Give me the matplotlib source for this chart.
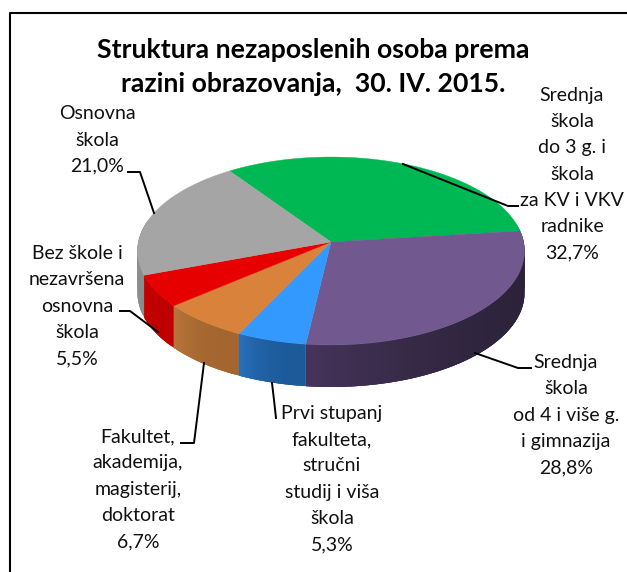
import numpy as np
import matplotlib
matplotlib.use('Agg')
import matplotlib.pyplot as plt
from matplotlib.colors import to_rgb
from matplotlib.patches import Polygon

plt.rcParams['font.family'] = ['Lato', 'DejaVu Sans']

# shares, clockwise starting from the green slice
values = [32.7, 28.8, 5.3, 6.7, 5.5, 21.0]
top_colors = ['#00b853', '#71588f', '#3399ff', '#d9823b', '#e60000', '#a5a5a5']
side_left = ['#00913f', '#46345c', '#2a72c0', '#bb763a', '#cc0000', '#8c8c8c']
side_right = ['#00913f', '#2b2238', '#1c5a9a', '#a3662e', '#bd0000', '#8c8c8c']

labels = [
    'Srednja\nškola\ndo 3 g. i\nškola\nza KV i VKV\nradnike\n32,7%',
    'Srednja\nškola\nod 4 i više g.\ni gimnazija\n28,8%',
    'Prvi stupanj\nfakulteta,\nstručni\nstudij i viša\nškola\n5,3%',
    'Fakultet,\nakademija,\nmagisterij,\ndoktorat\n6,7%',
    'Bez škole i\nnezavršena\nosnovna\nškola\n5,5%',
    'Osnovna\nškola\n21,0%',
]
label_x = [572, 566, 332, 138, 77, 97]
label_y = [174, 415, 479, 489, 306, 140]

leaders = [
    [(403, 164), (508, 206), (518, 206)],
    [(475, 353), (518, 368), (531, 368)],
    [(272, 383), (274, 400), (276, 418)],
    [(204, 363), (194, 443), (181, 443)],
    [(120, 311), (130, 311), (158, 332)],
    [(128, 172), (140, 172), (154, 213)],
]

title = 'Struktura nezaposlenih osoba prema\nrazini obrazovanja,  30. IV. 2015.'

start_angle = -34.6
cx, cy = 331, 242
depth = 42
k, e, m = 93.1, -0.0957, 192.6


def project(angle, r=1.0):
    # angle in degrees clockwise from the back of the pie, slight perspective
    a = np.radians(angle)
    x = r * np.sin(a)
    y = -r * np.cos(a)
    w = 1 + e * y
    return cx + m * x / w, cy + k * y / w


fig = plt.figure(figsize=(6.27, 5.72), dpi=100)
ax = fig.add_axes([0, 0, 1, 1])
ax.set_xlim(0, 627)
ax.set_ylim(572, 0)
ax.axis('off')

# frame, open on the right and at the bottom
ax.plot([9.5, 9.5, 627], [572, 12.5, 12.5], color='black', lw=1.5)

edges = start_angle + np.cumsum([0] + values) * 3.6

# side wall first, strips overlap so no seams show
for i in range(len(values)):
    a0, a1 = edges[i], edges[i + 1]
    for s in np.arange(a0, a1, 1.0):
        if np.cos(np.radians(s)) > 0.2:
            continue
        t = ((s - a0) / (a1 - a0)) ** 2.5
        col = (1 - t) * np.array(to_rgb(side_right[i])) + t * np.array(to_rgb(side_left[i]))
        strip = np.linspace(s, min(s + 3.0, a1), 6)
        upper = [project(a) for a in strip]
        lower = [(p[0], p[1] + depth) for p in upper[::-1]]
        ax.add_patch(Polygon(upper + lower, closed=True, facecolor=col, edgecolor='none'))

# top face
for i in range(len(values)):
    angles = np.linspace(edges[i], edges[i + 1], 80)
    pts = [(cx, cy)] + [project(a) for a in angles]
    ax.add_patch(Polygon(pts, closed=True, facecolor=top_colors[i], edgecolor=top_colors[i], lw=0.3))

for pts in leaders:
    ax.plot([p[0] for p in pts], [p[1] for p in pts], color='black', lw=1.4)

for i in range(len(labels)):
    ax.text(label_x[i], label_y[i], labels[i], ha='center', va='center',
            fontsize=14, color='#111111', linespacing=1.66)

ax.text(313, 67.5, title, ha='center', va='center', fontsize=19.2, fontweight='bold',
        color='black', linespacing=1.5)

fig.savefig('out.png', dpi=100)
